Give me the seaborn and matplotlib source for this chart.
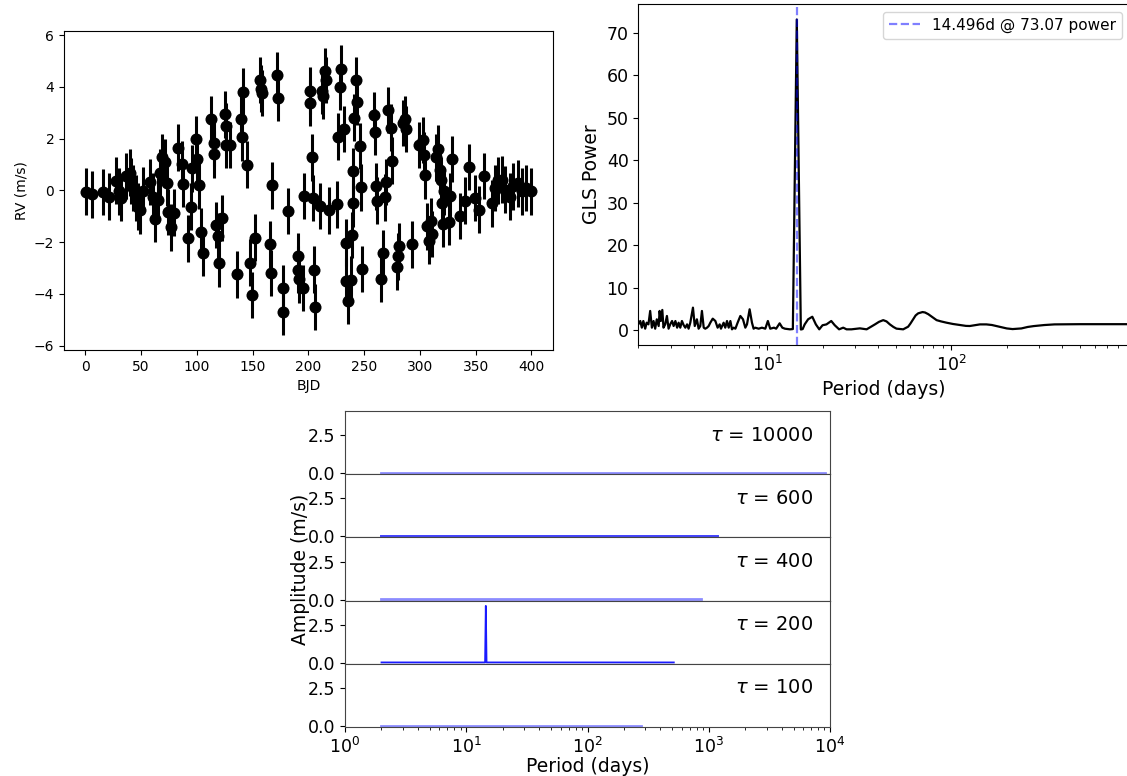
import matplotlib
matplotlib.use("Agg")
import matplotlib.pyplot as plt
import seaborn as sns

# ---------------- RV time series ----------------
bjd = [0.9, 6.5, 15.5, 21.4, 27.7, 30.7, 31.9, 36.6, 40.2, 41.1, 43.2, 45.5, 47.6, 49.0,
       51.5, 58.0, 60.4, 62.5, 65.5, 67.0, 69.0, 71.4, 72.9, 74.4, 76.5, 79.8, 83.3, 86.9,
       87.8, 92.3, 94.4, 95.8, 99.7, 100.6, 102.0, 103.9, 105.6, 113.0, 115.2, 115.5, 117.6,
       119.0, 119.6, 122.6, 125.4, 126.0, 126.4, 130.0, 135.7, 139.9, 140.4, 141.4, 144.9,
       147.3, 149.1, 151.8, 156.3, 157.7, 158.3, 165.8, 166.2, 167.3, 171.7, 172.6, 177.0,
       177.7, 181.5, 190.5, 190.9, 191.3, 194.9, 196.4, 201.5, 201.8, 203.0, 203.8, 205.4,
       206.3, 210.4, 212.6, 213.0, 215.2, 215.8, 218.8, 225.3, 226.2, 228.6, 229.2, 232.1,
       233.7, 234.2, 236.0, 238.1, 239.0, 239.6, 240.2, 241.1, 242.6, 244.0, 246.1, 247.0,
       248.5, 258.9, 259.6, 261.0, 261.3, 265.5, 267.0, 268.8, 269.3, 271.4, 273.8, 275.3,
       279.2, 280.4, 281.3, 284.8, 286.3, 287.8, 292.6, 299.1, 303.0, 303.6, 304.5, 306.5,
       308.6, 310.4, 310.9, 314.0, 316.4, 317.6, 318.5, 320.0, 320.8, 321.4, 325.9, 326.8,
       328.9, 335.7, 340.2, 343.8, 349.1, 352.7, 357.1, 364.6, 367.6, 369.9, 373.5, 376.5,
       381.0, 383.9, 387.8, 391.3, 395.3, 399.4]
rv = [-0.05, -0.15, -0.06, -0.24, 0.38, -0.04, -0.30, 0.56, 0.69, 0.36, 0.09, -0.30, -0.63,
      -0.77, -0.01, 0.32, -0.24, -1.10, -0.37, 0.69, 1.28, 1.08, 0.29, -0.83, -1.43, -0.86,
      1.65, 1.02, 0.25, -1.85, -0.63, 0.85, 1.98, 1.22, 0.19, -1.60, -2.42, 2.74, 1.84, 1.39,
      -1.34, -1.76, -2.82, -1.07, 2.94, 2.47, 1.75, 1.75, -3.25, 2.77, 2.05, 3.82, 0.99,
      -2.79, -4.05, -1.83, 4.26, 3.93, 3.77, -2.09, -3.19, 0.19, 4.46, 3.57, -3.78, -4.71,
      -0.79, -2.55, -3.06, -3.44, -3.78, -0.21, 3.86, 3.37, 1.28, -0.30, -3.06, -4.51, -0.61,
      3.86, 3.64, 4.62, 4.26, -0.77, -0.54, 2.08, 4.00, 4.70, 2.37, -2.02, -3.52, -4.27,
      -3.45, -1.72, -0.50, 0.75, 2.81, 4.26, 3.43, 1.72, 0.12, -3.04, 2.91, 2.25, 0.16,
      -0.40, -3.41, -2.42, -0.27, 0.32, 3.11, 2.43, 1.15, -2.95, -2.55, -2.15, 2.61, 2.74,
      2.37, -2.09, 1.75, 1.94, 1.35, 0.58, -1.39, -1.96, -1.20, -1.69, 1.28, 1.61, 0.78,
      0.39, -0.50, -1.30, -0.04, -1.23, -0.21, 1.22, -0.99, -0.40, 0.91, -0.30, -0.74, 0.56,
      -0.50, 0.09, 0.39, 0.42, 0.03, -0.24, 0.16, 0.27, -0.04, 0.09, -0.04]
rv_err = 0.9

# ---------------- GLS periodogram ----------------
gls_period = [2.00, 2.05, 2.09, 2.13, 2.18, 2.22, 2.27, 2.32, 2.37, 2.42, 2.47, 2.52, 2.58,
              2.61, 2.65, 2.70, 2.74, 2.80, 2.86, 2.92, 2.98, 3.05, 3.11, 3.18, 3.25, 3.31,
              3.38, 3.45, 3.53, 3.60, 3.68, 3.75, 3.83, 3.96, 4.05, 4.16, 4.25, 4.34, 4.43,
              4.53, 4.62, 4.72, 4.82, 4.92, 5.07, 5.24, 5.39, 5.53, 5.62, 5.81, 5.93, 6.06,
              6.19, 6.32, 6.45, 6.59, 6.73, 6.92, 7.16, 7.40, 7.62, 7.78, 8.04, 8.28, 8.45,
              8.63, 9.00, 9.38, 9.78, 10.1, 10.4, 10.9, 11.2, 11.7, 12.1, 12.5, 13.0, 13.3,
              13.8, 14.496, 15.25, 15.6, 16.0, 16.7, 17.6, 18.4, 19.2, 20.0, 21.0, 22.3,
              23.3, 24.6, 25.9, 27.0, 28.7, 31.9, 34.7, 38.5, 40.5, 42.7, 44.5, 46.4, 48.5,
              50.4, 54.8, 58.3, 60.0, 62.1, 64.0, 66.1, 69.8, 72.0, 75.0, 79.0, 83.2, 88.0,
              94.2, 102, 111, 120, 126, 134, 143, 155, 166, 185, 200, 215, 240, 260, 280,
              320, 363, 500, 1000]
gls_power = [1.41, 2.20, 0.63, 2.20, 0.39, 1.80, 1.41, 4.56, 0.63, 2.20, 0.39, 2.60, 1.02,
             4.56, 2.20, 4.80, 0.63, 1.41, 3.38, 0.39, 1.41, 2.20, 1.02, 2.20, 0.63, 1.80,
             0.63, 2.20, 1.18, 0.63, 1.41, 0.39, 1.80, 5.34, 1.02, 2.60, 0.39, 1.02, 4.56,
             0.63, 0.39, 0.63, 1.02, 1.80, 2.75, 2.20, 0.63, 1.41, 0.39, 1.80, 0.63, 2.20,
             0.63, 2.20, 0.24, 0.63, 0.39, 1.80, 3.38, 2.60, 0.63, 1.41, 4.95, 1.80, 0.39,
             0.63, 0.39, 0.63, 0.39, 2.20, 0.39, 0.63, 0.39, 1.65, 0.63, 0.39, 0.30, 0.24,
             0.30, 73.07, 0.20, 0.30, 1.40, 2.60, 3.20, 1.40, 0.24, 1.20, 1.40, 2.20,
             1.20, 0.24, 0.63, 0.24, 0.24, 0.47, 0.24, 1.40, 2.00, 2.40, 2.10, 1.40, 0.80,
             0.40, 0.24, 0.86, 1.60, 2.60, 3.50, 4.00, 4.30, 4.20, 3.80, 3.10, 2.40, 2.10,
             1.80, 1.50, 1.26, 1.05, 1.02, 1.20, 1.40, 1.40, 1.26, 0.80, 0.45, 0.30, 0.45,
             0.80, 1.00, 1.25, 1.40, 1.45, 1.45]
peak_period = 14.496
peak_power = 73.07

# ---------------- amplitude vs period for several tau ----------------
tau_values = [10000, 600, 400, 200, 100]
amp_period_10000 = [2, 9100]
amp_10000 = [0.02, 0.02]
amp_period_600 = [2, 1190]
amp_600 = [0.02, 0.02]
amp_period_400 = [2, 870]
amp_400 = [0.02, 0.02]
amp_period_200 = [2, 14.3, 14.5, 14.7, 515]
amp_200 = [0.02, 0.02, 3.75, 0.02, 0.02]
amp_period_100 = [2, 274]
amp_100 = [0.02, 0.02]

W, H = 1127, 776
fig = plt.figure(figsize=(W / 100, H / 100), dpi=100)


def box(l, t, r, b):
    return [l / W, 1 - b / H, (r - l) / W, (b - t) / H]


# ---- top-left: RV data ----
ax1 = fig.add_axes(box(64, 31, 553, 350))
ax1.errorbar(bjd, rv, yerr=rv_err, fmt='none', ecolor='black', elinewidth=2.2, zorder=2)
sns.scatterplot(x=bjd, y=rv, ax=ax1, color='black', s=75, linewidth=0, zorder=3)
ax1.set_xlabel('BJD', fontsize=10)
ax1.set_ylabel('RV (m/s)', fontsize=10)
ax1.tick_params(labelsize=10)

# ---- top-right: GLS periodogram ----
ax2 = fig.add_axes(box(638.3, 4, 1130, 345))
sns.lineplot(x=gls_period, y=gls_power, ax=ax2, color='black', lw=1.6,
             sort=False, estimator=None)
ax2.axvline(peak_period, ls='--', color='blue', alpha=0.5, lw=1.6,
            label=f'{peak_period}d @ {peak_power} power')
ax2.set_xscale('log')
ax2.set_xlim(2, 933)
ax2.set_xlabel('Period (days)', fontsize=13.5)
ax2.set_ylabel('GLS Power', fontsize=13.5)
ax2.tick_params(labelsize=12.5)
ax2.legend(loc='upper right', fontsize=11)

# ---- bottom: stacked amplitude panels ----
periods_list = [amp_period_10000, amp_period_600, amp_period_400, amp_period_200, amp_period_100]
amps_list = [amp_10000, amp_600, amp_400, amp_200, amp_100]
line_colors = [(0.55, 0.55, 1.0), (0.25, 0.25, 1.0), (0.55, 0.55, 1.0),
               (0.1, 0.1, 1.0), (0.55, 0.55, 1.0)]
line_widths = [2.0, 1.4, 2.0, 1.3, 2.0]

top, bottom = 411, 727
ph = (bottom - top) / 5
axes = []
for i, tau in enumerate(tau_values):
    ax = fig.add_axes(box(345, top + i * ph, 830, top + (i + 1) * ph))
    sns.lineplot(x=periods_list[i], y=amps_list[i], ax=ax, color=line_colors[i],
                 lw=line_widths[i], sort=False, estimator=None)
    ax.set_xscale('log')
    ax.set_xlim(1, 1e4)
    ax.set_ylim(-0.07, 4.1)
    ax.set_yticks([0.0, 2.5])
    ax.set_yticklabels(['0.0', '2.5'])
    ax.tick_params(labelsize=12.5)
    for s in ax.spines.values():
        s.set_color('#444444')
    ax.text(0.966, 0.62, rf'$\tau$ = {tau}', transform=ax.transAxes,
            ha='right', va='center', fontsize=14)
    if i < 4:
        ax.tick_params(axis='x', which='both', bottom=False, labelbottom=False)
    axes.append(ax)

axes[-1].set_xlabel('Period (days)', fontsize=13.5, labelpad=0)
fig.text(300 / W, 1 - 569.5 / H, 'Amplitude (m/s)', rotation=90,
         ha='center', va='center', fontsize=13.5)

fig.savefig('out.png', dpi=100)
